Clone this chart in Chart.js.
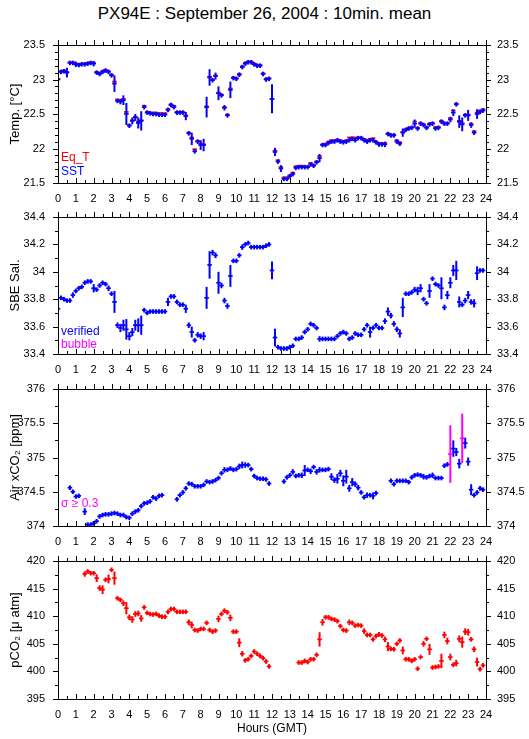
<!DOCTYPE html>
<html>
<head>
<meta charset="utf-8">
<script src="https://cdn.jsdelivr.net/npm/chart.js@4"></script>
<style>
  body { margin: 0; background: #fff; width: 529px; height: 739px; position: relative; overflow: hidden; font-family: "Liberation Sans", Arial, sans-serif; }
  #title { position: absolute; left: 0; top: 4px; width: 529px; text-align: center; font-size: 17px; color: #000; }
  canvas { position: absolute; left: 0; }
</style>
</head>
<body>
<div id="title">PX94E : September 26, 2004 : 10min. mean</div>
<canvas id="tempChart" width="529" height="175" style="top:33px"></canvas>
<canvas id="salChart" width="529" height="174" style="top:205px"></canvas>
<canvas id="airChart" width="529" height="174" style="top:377px"></canvas>
<canvas id="pco2Chart" width="529" height="190" style="top:549px"></canvas>
<script>
// 10 minute means, slot i = hour i/6 (144 slots per day)
const SLOTS_PER_HOUR = 6;

const sst = [
  23.00, 23.11, 23.12, 23.10, 23.24, 23.24, 23.22, 23.21, 23.22, 23.22, 23.23, 23.24,
  23.23, 23.10, 23.08, 23.11, 23.13, 23.11, 23.06, 22.94, 22.69, 22.68, 22.70, 22.50,
  22.33, 22.40, 22.45, 22.37, 22.40, 22.60, 22.52, 22.51, 22.50, 22.50, 22.49, 22.49,
  22.49, 22.56, 22.63, 22.60, 22.52, 22.52, 22.52, 22.47, 22.22, 22.14, 21.96, 22.10,
  22.05, 22.05, 22.60, 23.03, 22.99, 23.05, 22.80, 22.77, 22.59, 22.48, 22.85, 23.02,
  23.01, 23.07, 23.18, 23.23, 23.25, 23.25, 23.22, 23.20, 23.20, 23.08, 23.00, 23.01,
  22.72, 21.95, 21.81, 21.71, 21.56, 21.56, 21.60, 21.63, 21.72, 21.73, 21.73, 21.73,
  21.73, 21.77, 21.75, 21.80, 21.86, 22.05, 22.05, 22.08, 22.10, 22.10, 22.12, 22.10,
  22.09, 22.10, 22.12, 22.14, 22.12, 22.15, 22.15, 22.12, 22.10, 22.12, 22.12, 22.09,
  22.06, 22.06, 22.06, 22.21, 22.19, 22.19, 22.10, 22.07, 22.23, 22.27, 22.29, 22.30,
  22.36, 22.29, 22.36, 22.34, 22.30, 22.35, 22.36, 22.29, 22.30, 22.39, 22.36, 22.36,
  22.42, 22.52, 22.64, 22.39, 22.35, 22.48, 22.48, 22.34, 22.23, 22.50, 22.53, 22.55,
];
const sstErr = [
  .02, .02, .02, .07, .02, .02, .04, .02, .02, .02, .02, .02,
  .04, .02, .02, .02, .02, .02, .02, .12, .02, .04, .07, .16,
  .03, .05, .05, .08, .14, .02, .02, .01, .01, .01, .01, .01,
  .01, .02, .02, .02, .02, .01, .01, .06, .02, .09, .03, .02,
  .07, .09, .15, .12, .02, .05, .10, .03, .04, .03, .12, .02,
  .02, .02, .03, .02, .02, .02, .02, .02, .02, .03, .03, .02,
  .21, .06, .03, .05, .02, .02, .02, .02, .02, .02, .02, .02,
  .02, .02, .02, .03, .06, .03, .02, .02, .02, .02, .02, .02,
  .02, .02, .02, .02, .02, .02, .02, .02, .02, .02, .02, .02,
  .02, .02, .04, .02, .02, .02, .02, .03, .06, .02, .02, .02,
  .06, .03, .02, .02, .02, .02, .02, .03, .02, .02, .02, .02,
  .04, .05, .03, .09, .10, .02, .08, .04, .02, .07, .02, .02,
];
const eqT = [
  23.01, 23.12, 23.13, 23.11, 23.25, 23.25, 23.23, 23.22, 23.23, 23.23, 23.24, 23.25,
  23.24, 23.11, 23.09, 23.12, 23.14, 23.12, 23.07, 22.97, 22.71, 22.69, 22.72, 22.53,
  22.34, 22.41, 22.46, 22.39, 22.41, 22.62, 22.53, 22.52, 22.52, 22.52, 22.51, 22.51,
  22.51, 22.57, 22.64, 22.62, 22.53, 22.53, 22.53, 22.48, 22.23, 22.16, 21.99, 22.11,
  22.07, 22.06, 22.61, 23.04, 23.00, 23.06, 22.81, 22.78, 22.60, 22.49, 22.87, 23.03,
  23.02, 23.08, 23.19, 23.24, 23.26, 23.26, 23.23, 23.21, 23.21, 23.09, 23.01, 23.02,
  22.72, 21.97, 21.83, 21.73, 21.58, 21.58, 21.61, 21.65, 21.74, 21.75, 21.75, 21.74,
  21.74, 21.79, 21.76, 21.81, 21.89, 22.06, 22.07, 22.10, 22.12, 22.12, 22.13, 22.12,
  22.11, 22.12, 22.16, 22.16, 22.16, 22.16, 22.16, 22.14, 22.12, 22.14, 22.15, 22.10,
  22.08, 22.08, 22.08, 22.22, 22.20, 22.20, 22.12, 22.09, 22.24, 22.28, 22.30, 22.31,
  22.39, 22.30, 22.37, 22.35, 22.31, 22.36, 22.37, 22.31, 22.31, 22.40, 22.37, 22.37,
  22.44, 22.55, 22.65, 22.40, 22.37, 22.49, 22.49, 22.36, 22.25, 22.52, 22.55, 22.57,
];

const salinity = [
  33.73, 33.81, 33.80, 33.79, 33.79, 33.83, 33.86, 33.88, 33.89, 33.92, 33.93, 33.93,
  33.88, 33.87, 33.90, 33.92, 33.91, 33.88, 33.84, 33.78, 33.61, 33.59, 33.61, 33.58,
  33.53, 33.56, 33.61, 33.61, 33.61, 33.72, 33.70, 33.71, 33.71, 33.71, 33.71, 33.71,
  33.71, 33.78, 33.82, 33.82, 33.78, 33.76, 33.76, 33.73, 33.61, 33.56, 33.50, 33.54,
  33.53, 33.53, 33.81, 34.05, 34.14, 34.12, 33.92, 33.90, 33.79, 33.75, 33.97, 34.08,
  34.08, 34.12, 34.18, 34.20, 34.21, 34.18, 34.18, 34.18, 34.18, 34.18, 34.19, 34.20,
  34.01, 33.52, 33.45, 33.44, 33.44, 33.44, 33.45, 33.46, 33.51, 33.51, 33.52, 33.56,
  33.58, 33.62, 33.61, 33.59, 33.51, 33.51, 33.51, 33.51, 33.51, 33.51, 33.53, 33.55,
  33.56, 33.55, 33.51, 33.52, 33.55, 33.54, 33.54, 33.58, 33.61, 33.56, 33.59, 33.61,
  33.59, 33.59, 33.64, 33.71, 33.68, 33.62, 33.58, 33.55, 33.74, 33.84, 33.84, 33.85,
  33.87, 33.86, 33.88, 33.80, 33.77, 33.86, 33.95, 33.91, 33.90, 33.88, 33.74, 33.83,
  33.92, 34.01, 34.01, 33.78, 33.76, 33.79, 33.83, 33.78, 33.77, 33.99, 34.01, 34.01,
];
const salinityErr = [
  .02, .01, .01, .01, .01, .02, .01, .01, .01, .01, .01, .01,
  .03, .01, .01, .01, .01, .02, .01, .08, .02, .03, .04, .075,
  .03, .03, .04, .05, .07, .01, .01, .01, .01, .01, .01, .01,
  .01, .03, .01, .01, .01, .01, .01, .03, .02, .04, .01, .02,
  .02, .03, .08, .10, .02, .02, .08, .02, .02, .02, .08, .01,
  .01, .01, .02, .01, .01, .01, .01, .01, .01, .01, .01, .01,
  .065, .065, .01, .01, .01, .01, .01, .01, .01, .01, .01, .01,
  .01, .01, .01, .01, .02, .01, .01, .01, .01, .01, .01, .01,
  .01, .01, .01, .01, .01, .01, .01, .01, .01, .04, .01, .01,
  .01, .01, .02, .03, .02, .02, .02, .03, .07, .01, .01, .01,
  .02, .03, .03, .01, .01, .05, .01, .01, .01, .08, .02, .03,
  .04, .04, .07, .04, .01, .02, .03, .02, .03, .05, .01, .01,
];

const airXco2 = [
  null, null, null, null, 374.56, 374.50, 374.43, 374.44, null, 374.21, 374.02, 374.02,
  374.04, 374.07, 374.14, 374.16, 374.17, 374.17, 374.18, 374.19, 374.18, 374.16, 374.16, 374.13,
  374.12, 374.18, 374.21, 374.23, 374.29, 374.33, 374.34, 374.36, 374.42, 374.40, 374.44, 374.45,
  null, null, null, null, 374.39, 374.45, 374.49, 374.55, 374.62, 374.61, 374.58, 374.58,
  374.58, 374.60, 374.65, 374.64, 374.65, 374.67, 374.70, 374.77, 374.82, 374.82, 374.84, 374.82,
  374.83, 374.87, 374.89, 374.89, 374.89, 374.83, 374.73, 374.70, 374.69, 374.69, 374.68, 374.62,
  null, null, null, null, 374.65, 374.71, 374.74, 374.79, 374.73, 374.74, 374.74, 374.81,
  374.82, 374.80, 374.86, 374.79, 374.82, 374.82, 374.82, 374.83, 374.72, 374.67, 374.69, 374.77,
  374.66, 374.72, 374.55, 374.64, 374.61, 374.56, 374.49, 374.42, 374.45, 374.45, 374.44, 374.48,
  null, null, null, null, 374.66, 374.61, 374.66, 374.66, 374.66, 374.66, 374.64, 374.71,
  374.74, 374.75, 374.74, 374.72, 374.71, 374.73, 374.74, 374.70, 374.70, 374.70, 374.88, 374.90,
  null, 375.13, 375.08, 374.91, null, 375.21, 374.94, 374.53, 374.45, 374.49, 374.55, 374.53,
];
const airXco2Err = [
  0, 0, 0, 0, .02, .03, .02, .02, 0, .05, .01, .01,
  .01, .02, .02, .02, .02, .02, .02, .02, .02, .01, .01, .02,
  .02, .02, .02, .02, .02, .02, .02, .02, .02, .03, .03, .02,
  0, 0, 0, 0, .03, .02, .02, .02, .03, .03, .02, .02,
  .02, .02, .03, .02, .02, .02, .02, .03, .04, .02, .03, .02,
  .02, .04, .05, .04, .03, .03, .02, .02, .02, .02, .02, .03,
  0, 0, 0, 0, .03, .03, .03, .04, .03, .03, .04, .08,
  .03, .04, .03, .04, .04, .03, .03, .03, .05, .04, .07, .05,
  .08, .10, .05, .06, .04, .04, .03, .03, .04, .03, .05, .02,
  0, 0, 0, 0, .03, .02, .02, .02, .02, .02, .02, .02,
  .02, .02, .02, .04, .03, .02, .04, .02, .02, .02, .03, .03,
  0, .12, .06, .07, 0, .08, .06, .08, .02, .03, .03, .02,
];
// means with sigma >= 0.3 ppm
const flaggedSlots = [132, 136];
const flaggedXco2 = [375.05, 375.28];
const flaggedErr = [0.42, 0.36];

const pco2 = [
  null, null, null, null, null, null, null, null, null, 417.65, 418.1, 417.8,
  417.8, 416.9, 415.1, 414.8, 416.6, 416.75, 418.4, 416.9, 413.25, 412.95, 412.35, 411.45,
  409.8, 409.4, 410.4, 410.5, 409.6, 411.6, 410.6, 410.4, 410.3, 410.4, 410.1, 409.9,
  409.9, 410.8, 411.3, 411.3, 410.8, 410.8, 410.8, 410.8, 408.9, 408.4, 407.5, 407.4,
  407.7, 407.7, 408.8, 407.5, 407.2, 407.4, 409.5, 410.4, 411.0, 410.7, 409.7, 407.2,
  407.2, 405.2, 403.2, 402.0, 402.2, 402.8, 403.6, 403.2, 402.8, 402.4, 401.8, 400.9,
  null, null, null, null, null, null, null, null, null, 401.6, 401.6, 401.9,
  401.7, 402.2, 402.2, 403.0, 405.8, 408.9, 409.8, 409.8, 409.5, 409.4, 409.1, 408.2,
  407.5, 407.4, 408.9, 408.8, 408.3, 408.4, 408.3, 407.3, 406.6, 406.6, 405.8, 406.4,
  406.7, 406.5, 405.8, 404.5, 404.1, 404.0, 405.0, 405.6, 403.8, 402.2, 402.2, 401.9,
  402.2, 400.5, 402.6, 405.0, 405.9, 404.0, 400.7, 400.8, 400.9, 401.9, 406.6, 405.5,
  402.6, 401.2, 401.5, 405.9, 405.3, 407.2, 407.1, 405.8, 404.0, 401.7, 400.4, 401.1,
];
const pco2Err = [
  0, 0, 0, 0, 0, 0, 0, 0, 0, .5, .4, .2,
  .2, .7, .5, .8, .2, .8, .4, 1.2, .2, .3, .5, 1.1,
  .5, .6, .5, .5, .6, .2, .3, .1, .1, .1, .1, .1,
  .1, .2, .1, .1, .1, .1, .1, .1, .5, .6, .1, .3,
  .1, .1, .2, .4, .3, .2, .6, .2, .2, .2, .6, .1,
  .1, .8, .5, .3, .2, .3, .2, .2, .2, .2, .4, .2,
  0, 0, 0, 0, 0, 0, 0, 0, 0, .2, .2, .2,
  .2, .2, .2, .4, 1.3, .6, .2, .2, .2, .2, .3, .2,
  .2, .2, .5, .4, .2, .2, .2, .5, .2, .3, .2, .2,
  .3, .2, .5, .8, .2, .2, .4, .4, .7, .2, .2, .3,
  .2, .3, .4, .5, .4, 1.0, .2, .2, .2, 1.3, .6, .6,
  .6, .4, .6, .6, 1.0, .6, .6, .2, .5, .8, .3, .2,
];

const RED = "#ff0000";
const BLUE = "#0000ff";
const MAGENTA = "#ff00ff";

Chart.defaults.font.family = '"Liberation Sans", Arial, sans-serif';
Chart.defaults.font.size = 11;
Chart.defaults.color = "#000";

function toPoints(vals, errs) {
  const out = [];
  vals.forEach((v, i) => {
    if (v !== null) out.push({ x: i / SLOTS_PER_HOUR, y: v, e: errs ? errs[i] : 0 });
  });
  return out;
}

function sparsePoints(slots, vals, errs) {
  return slots.map((s, i) => ({ x: s / SLOTS_PER_HOUR, y: vals[i], e: errs[i] }));
}

// vertical half-length of the error bar, in pixels of the y scale
function errRadius(ctx) {
  const p = ctx.raw;
  if (!p || typeof p.e !== "number") return 0;
  const ys = ctx.chart.scales.y;
  return Math.max(2.3, Math.abs(ys.getPixelForValue(p.y) - ys.getPixelForValue(p.y + p.e)));
}

// half of a 10 minute slot, in pixels of the x scale
function halfSlot(ctx) {
  const xs = ctx.chart.scales.x;
  return Math.abs(xs.getPixelForValue(0.5 / SLOTS_PER_HOUR) - xs.getPixelForValue(0)) + 0.8;
}

function bars(data, color) {
  return {
    data: data,
    pointStyle: "line",
    rotation: 90,
    pointRadius: errRadius,
    pointHoverRadius: errRadius,
    pointBorderWidth: 2,
    pointBorderColor: color,
    pointBackgroundColor: color,
  };
}

function means(data, color) {
  return {
    data: data,
    pointStyle: "line",
    rotation: 0,
    pointRadius: halfSlot,
    pointHoverRadius: halfSlot,
    pointBorderWidth: 1.7,
    pointBorderColor: color,
    pointBackgroundColor: color,
  };
}

const framePlugin = {
  id: "frame",
  afterDraw(chart, args, opts) {
    const { ctx, chartArea: a } = chart;
    const xs = chart.scales.x;
    const ys = chart.scales.y;
    ctx.save();
    ctx.strokeStyle = "#000";
    ctx.lineWidth = 1;
    ctx.strokeRect(a.left + 0.5, a.top + 0.5, a.right - a.left, a.bottom - a.top);
    ctx.beginPath();
    for (let k = 0; k <= 48; k++) {
      const x = Math.round(xs.getPixelForValue(k / 2)) + 0.5;
      const len = k % 2 === 0 ? 5 : 3;
      ctx.moveTo(x, a.top);
      ctx.lineTo(x, a.top - len);
      ctx.moveTo(x, a.bottom);
      ctx.lineTo(x, a.bottom - len);
    }
    const n = Math.round((ys.max - ys.min) / opts.minor);
    const per = Math.round(opts.major / opts.minor);
    for (let k = 0; k <= n; k++) {
      const y = Math.round(ys.getPixelForValue(ys.min + k * opts.minor)) + 0.5;
      const len = k % per === 0 ? 5 : 3;
      ctx.moveTo(a.left, y);
      ctx.lineTo(a.left - len, y);
      ctx.moveTo(a.right, y);
      ctx.lineTo(a.right + len, y);
    }
    ctx.stroke();
    ctx.restore();
  },
};

const notesPlugin = {
  id: "notes",
  afterDraw(chart, args, opts) {
    const { ctx, chartArea: a } = chart;
    ctx.save();
    ctx.font = '12px "Liberation Sans", Arial, sans-serif';
    ctx.textBaseline = "middle";
    (opts.items || []).forEach((n) => {
      ctx.fillStyle = n.color;
      ctx.fillText(n.text, a.left + 3, a.top + n.dy);
    });
    ctx.restore();
  },
};

function trimLabel(v) {
  return String(+Number(v).toFixed(2));
}

// keep tick label overhang from pushing the plot area around
function noOverhang(s) {
  s.paddingTop = 0;
  s.paddingBottom = 0;
}

function makePanel(id, opts) {
  const bottomH = opts.hoursTitle ? 40 : 25;
  const yTicks = { stepSize: opts.major, callback: trimLabel };
  new Chart(document.getElementById(id), {
    type: "scatter",
    data: { datasets: opts.datasets },
    options: {
      responsive: false,
      animation: false,
      events: [],
      layout: { padding: { top: 12, left: 0, right: 0, bottom: 0 } },
      plugins: {
        legend: { display: false },
        tooltip: { enabled: false },
        frame: { major: opts.major, minor: opts.minor },
        notes: { items: opts.notes || [] },
      },
      scales: {
        x: {
          type: "linear",
          position: "bottom",
          min: 0,
          max: 24,
          grid: { display: false, drawTicks: false },
          border: { display: false },
          ticks: { stepSize: 1, autoSkip: false, maxRotation: 0, padding: 9, callback: trimLabel },
          title: {
            display: !!opts.hoursTitle,
            text: "Hours (GMT)",
            font: { size: 12 },
            padding: { top: 0, bottom: 3 },
          },
          afterFit(s) {
            s.height = bottomH;
          },
        },
        y: {
          position: "left",
          min: opts.min,
          max: opts.max,
          grid: { display: false, drawTicks: false },
          border: { display: false },
          ticks: Object.assign({ padding: 13 }, yTicks),
          title: { display: true, text: opts.label, font: { size: 13 }, padding: { top: 8, bottom: 0 } },
          afterFit(s) {
            s.width = 58;
            noOverhang(s);
          },
        },
        y2: {
          position: "right",
          min: opts.min,
          max: opts.max,
          grid: { display: false, drawTicks: false },
          border: { display: false },
          ticks: Object.assign({ padding: 11 }, yTicks),
          afterFit(s) {
            s.width = 43;
            noOverhang(s);
          },
        },
      },
    },
    plugins: [framePlugin, notesPlugin],
  });
}

const sstPts = toPoints(sst, sstErr);
const salPts = toPoints(salinity, salinityErr);
const airPts = toPoints(airXco2, airXco2Err);
const flagPts = sparsePoints(flaggedSlots, flaggedXco2, flaggedErr);
const pco2Pts = toPoints(pco2, pco2Err);

makePanel("tempChart", {
  label: "Temp. [°C]",
  min: 21.5, max: 23.5, major: 0.5, minor: 0.1,
  datasets: [bars(sstPts, BLUE), means(sstPts, BLUE), means(toPoints(eqT), RED)],
  notes: [
    { text: "Eq_T", color: RED, dy: 113 },
    { text: "SST", color: BLUE, dy: 127 },
  ],
});

makePanel("salChart", {
  label: "SBE Sal.",
  min: 33.4, max: 34.4, major: 0.2, minor: 0.1,
  datasets: [bars(salPts, BLUE), means(salPts, BLUE)],
  notes: [
    { text: "verified", color: BLUE, dy: 115 },
    { text: "bubble", color: MAGENTA, dy: 128 },
  ],
});

makePanel("airChart", {
  label: "Air xCO₂ [ppm]",
  min: 374, max: 376, major: 0.5, minor: 0.25,
  datasets: [bars(flagPts, MAGENTA), means(flagPts, MAGENTA), bars(airPts, BLUE), means(airPts, BLUE)],
  notes: [{ text: "σ ≥ 0.3", color: MAGENTA, dy: 115 }],
});

makePanel("pco2Chart", {
  label: "pCO₂ [μ atm]",
  min: 395, max: 420, major: 5, minor: 2.5,
  datasets: [bars(pco2Pts, RED), means(pco2Pts, RED)],
  hoursTitle: true,
});
</script>
</body>
</html>
